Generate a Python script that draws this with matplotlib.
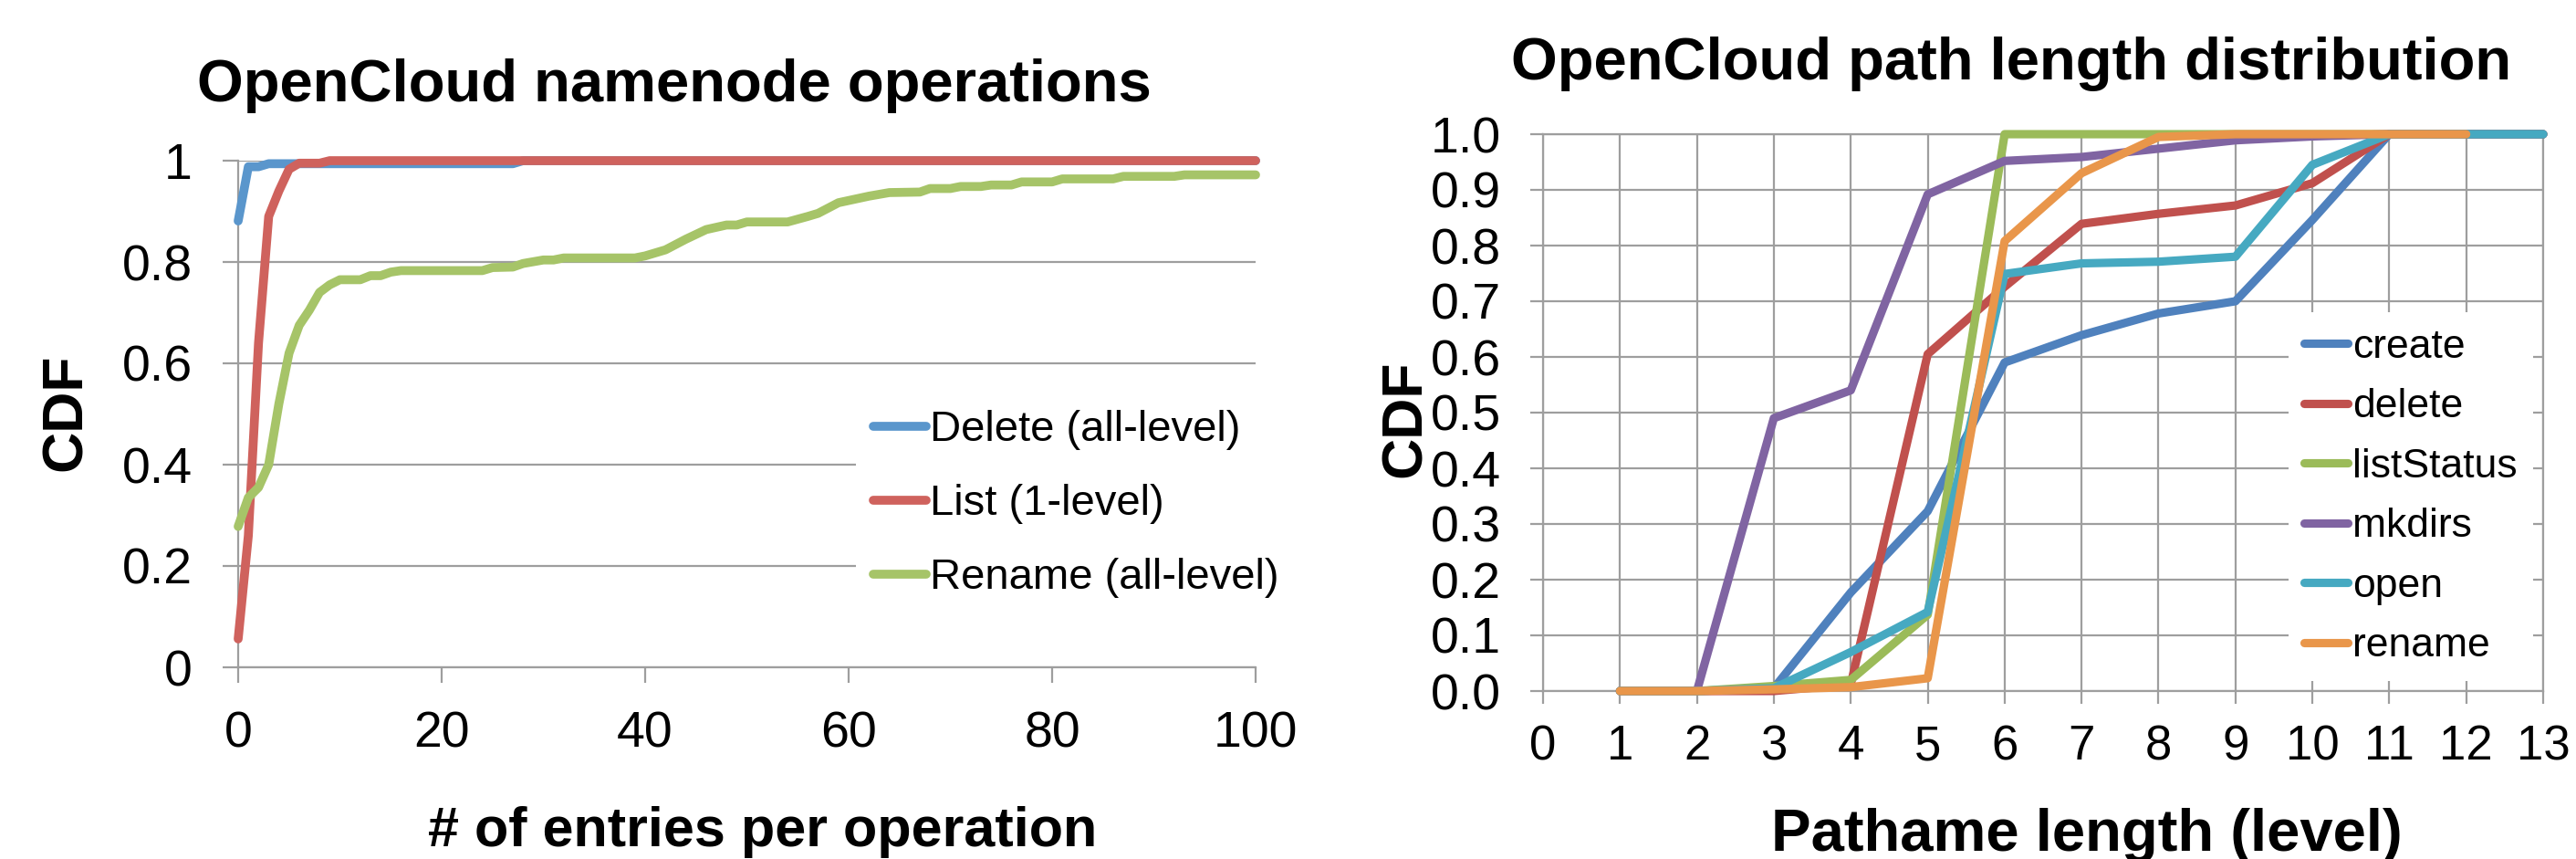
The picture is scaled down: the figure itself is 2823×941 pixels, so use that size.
import matplotlib.pyplot as plt

plt.rcParams['font.family'] = ['Liberation Sans', 'DejaVu Sans']

# ---- left chart: entries per namenode operation (breakpoints)
delete_x = [0, 1, 2, 3, 27, 28, 100]
delete_y = [0.881, 0.988, 0.988, 0.994, 0.994, 1.0, 1.0]
list_x = [0, 1, 2, 3, 4, 5, 6, 8, 9, 100]
list_y = [0.056, 0.26, 0.64, 0.89, 0.94, 0.983, 0.995, 0.995, 1.0, 1.0]
rename_x = [0, 1, 2, 3, 4, 5, 6, 7, 8, 9, 10, 12, 13, 14, 15, 16, 24, 25, 27, 28,
            30, 31, 32, 39, 40, 42, 44, 46, 48, 49, 50, 54, 56, 57, 59, 62, 64, 67,
            68, 70, 71, 73, 74, 76, 77, 80, 81, 86, 87, 92, 93, 100]
rename_y = [0.278, 0.335, 0.355, 0.40, 0.52, 0.62, 0.675, 0.705, 0.74, 0.755, 0.765,
            0.765, 0.773, 0.773, 0.78, 0.783, 0.783, 0.789, 0.79, 0.797, 0.804, 0.804,
            0.808, 0.808, 0.812, 0.824, 0.845, 0.864, 0.873, 0.873, 0.879, 0.879, 0.89,
            0.896, 0.917, 0.93, 0.937, 0.938, 0.945, 0.945, 0.949, 0.949, 0.952, 0.952,
            0.958, 0.958, 0.964, 0.964, 0.969, 0.969, 0.972, 0.972]
ops_labels = ['Delete (all-level)', 'List (1-level)', 'Rename (all-level)']
ops_colors = ['#5A96CC', '#CF625D', '#A6C468']

# ---- right chart: path length distribution
levels = [1, 2, 3, 4, 5, 6, 7, 8, 9, 10, 11, 12, 13]
create = [0, 0, 0.005, 0.177, 0.323, 0.59, 0.639, 0.678, 0.70, 0.846, 1.0, 1.0, 1.0]
delete = [0, 0, 0, 0.012, 0.605, 0.726, 0.839, 0.857, 0.872, 0.912, 1.0, 1.0, 1.0]
list_status = [0, 0, 0.009, 0.02, 0.137, 1.0, 1.0, 1.0, 1.0, 1.0, 1.0, 1.0, 1.0]
mkdirs = [0, 0, 0.49, 0.54, 0.892, 0.952, 0.959, 0.974, 0.989, 0.996, 1.0, 1.0, 1.0]
open_ = [0, 0, 0.005, 0.07, 0.142, 0.749, 0.768, 0.771, 0.78, 0.945, 1.0, 1.0, 1.0]
rename = [0, 0, 0.003, 0.007, 0.023, 0.808, 0.93, 0.995, 1.0, 1.0, 1.0, 1.0]
path_labels = ['create', 'delete', 'listStatus', 'mkdirs', 'open', 'rename']
path_colors = ['#4F81BD', '#C0504D', '#9BBB59', '#8064A2', '#46A9C1', '#E9964A']

grid_col = '#9E9E9E'
W, H = 2823, 941
fig = plt.figure(figsize=(W / 100, H / 100), dpi=100)

# ---------------- left
ax1 = fig.add_axes([261 / W, 1 - 731 / H, (1376 - 261) / W, (731 - 176) / H])
series = [(delete_x, delete_y), (list_x, list_y), (rename_x, rename_y)]
for (xs, ys), lab, col in zip(series, ops_labels, ops_colors):
    ax1.plot(xs, ys, color=col, lw=7, label=lab, solid_capstyle='round',
             solid_joinstyle='round', clip_on=False, zorder=3)
ax1.set_xlim(0, 100)
ax1.set_ylim(0, 1)
ax1.set_xticks([0, 20, 40, 60, 80, 100])
ax1.set_yticks([0, 0.2, 0.4, 0.6, 0.8, 1.0])
ax1.set_yticklabels(['0', '0.2', '0.4', '0.6', '0.8', '1'])
ax1.yaxis.grid(True, color=grid_col, lw=1.6)
for s in ['top', 'right']:
    ax1.spines[s].set_visible(False)
for s in ['left', 'bottom']:
    ax1.spines[s].set_color(grid_col)
    ax1.spines[s].set_linewidth(1.6)
ax1.tick_params(axis='y', length=12, width=1.6, color=grid_col, pad=24, labelsize=40)
ax1.tick_params(axis='x', length=12, width=1.6, color=grid_col, pad=22, labelsize=40)
leg1 = ax1.legend(loc='center left', bbox_to_anchor=(0.607, 0.322), fontsize=34,
                  frameon=True, facecolor='white', edgecolor='none', framealpha=1,
                  handlelength=1.23, handletextpad=0.1, labelspacing=0.78,
                  borderpad=0.4, borderaxespad=0)
leg1.set_zorder(4)

# ---------------- right
ax2 = fig.add_axes([1691 / W, 1 - 757 / H, (2787 - 1691) / W, (757 - 147) / H])
path_series = [create, delete, list_status, mkdirs, open_, rename]
for ys, lab, col in zip(path_series, path_labels, path_colors):
    ax2.plot(levels[:len(ys)], ys, color=col, lw=6.6, label=lab,
             solid_capstyle='round', solid_joinstyle='round', clip_on=False, zorder=3)
ax2.set_xlim(0, 13)
ax2.set_ylim(0, 1)
ax2.set_xticks(range(0, 14))
ax2.set_yticks([i / 10 for i in range(11)])
ax2.set_yticklabels(['%.1f' % (i / 10) for i in range(11)])
ax2.grid(True, color=grid_col, lw=1.6)
for s in ax2.spines.values():
    s.set_color(grid_col)
    s.set_linewidth(1.6)
ax2.tick_params(axis='y', length=10, width=1.6, color=grid_col, pad=23, labelsize=40)
ax2.tick_params(axis='x', length=10, width=1.6, color=grid_col, pad=16, labelsize=38)
leg2 = ax2.legend(loc='center left', bbox_to_anchor=(0.745, 0.349), fontsize=32,
                  frameon=True, facecolor='white', edgecolor='none', framealpha=1,
                  handlelength=1.08, handletextpad=0.1, labelspacing=0.55,
                  borderpad=0.4, borderaxespad=0)
leg2.set_zorder(4)

# ---------------- titles and axis labels
fig.text(739 / W, 1 - 111 / H, 'OpenCloud namenode operations', ha='center',
         va='baseline', fontsize=47, fontweight='bold')
fig.text(2204 / W, 1 - 87 / H, 'OpenCloud path length distribution', ha='center',
         va='baseline', fontsize=47, fontweight='bold')
fig.text(836 / W, 1 - 927 / H, '# of entries per operation', ha='center',
         va='baseline', fontsize=44, fontweight='bold')
fig.text(2287 / W, 1 - 932 / H, 'Pathame length (level)', ha='center',
         va='baseline', fontsize=47, fontweight='bold')
fig.text(72 / W, 1 - 452 / H, 'CDF', rotation=90, ha='center', va='center',
         fontsize=45, fontweight='bold')
fig.text(1540 / W, 1 - 459 / H, 'CDF', rotation=90, ha='center', va='center',
         fontsize=45, fontweight='bold')

fig.savefig('out.png', dpi=100)
